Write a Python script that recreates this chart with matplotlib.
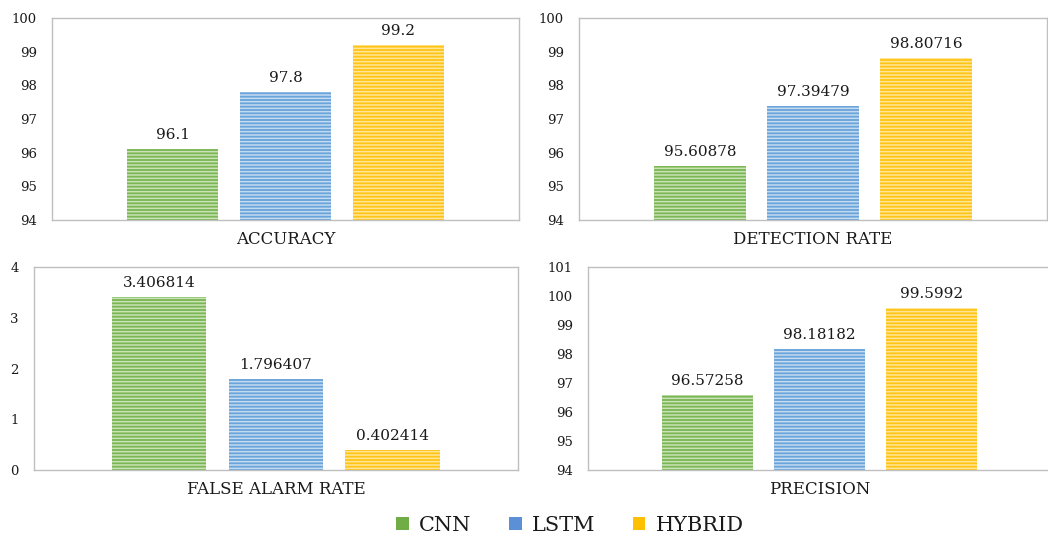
"""
Model comparison: CNN vs LSTM vs HYBRID on four detection metrics.
Saves a 2x2 grid of bar charts with a shared legend to out.png.
"""

import matplotlib
matplotlib.use("Agg")

import matplotlib.pyplot as plt
import numpy as np
from matplotlib.patches import Patch

# --- data -------------------------------------------------------------------
models = ["CNN", "LSTM", "HYBRID"]

accuracy = [96.1, 97.8, 99.2]
detection_rate = [95.60878, 97.39479, 98.80716]
false_alarm_rate = [3.406814, 1.796407, 0.402414]
precision = [96.57258, 98.18182, 99.5992]

accuracy_labels = ["96.1", "97.8", "99.2"]
detection_labels = ["95.60878", "97.39479", "98.80716"]
false_alarm_labels = ["3.406814", "1.796407", "0.402414"]
precision_labels = ["96.57258", "98.18182", "99.5992"]

# --- style ------------------------------------------------------------------
plt.rcParams["font.family"] = ["DejaVu Serif"]
plt.rcParams["hatch.linewidth"] = 1.1

BASE = ["#7AB654", "#68A3DA", "#FFC414"]
STRIPE = ["#C9E3B7", "#C3DAF1", "#FFE597"]
SOLID = ["#70AD47", "#5B8FD6", "#FFC000"]
SPINE = "#BFBFBF"
TEXT = "#1A1A1A"


def draw_panel(ax, values, labels, title, ylim, yticks):
    x = np.arange(len(values)) - 1
    width = 0.81
    # flat fill, then a second pass carrying only the striped hatch
    ax.bar(x, values, width, color=BASE, edgecolor="none", zorder=2)
    for xi, v, stripe in zip(x, values, STRIPE):
        ax.bar(xi, v, width, facecolor="none", edgecolor=stripe,
               hatch="-----", linewidth=0, zorder=3)

    for xi, v, lab in zip(x, values, labels):
        ax.annotate(lab, (xi, v), xytext=(0, 5), textcoords="offset points",
                    ha="center", va="bottom", fontsize=11, color=TEXT)

    ax.set_xlim(-2.07, 2.07)
    ax.set_ylim(*ylim)
    ax.set_yticks(yticks)
    ax.set_xticks([])
    ax.tick_params(axis="y", length=0, pad=11, labelsize=9.5, colors=TEXT)
    for spine in ax.spines.values():
        spine.set_color(SPINE)
        spine.set_linewidth(1.0)
    ax.set_xlabel(title, fontsize=12, color=TEXT, labelpad=8)


fig = plt.figure(figsize=(10.48, 5.39), dpi=100)

ax_acc = fig.add_axes([0.0496, 0.5918, 0.4456, 0.3748])
ax_det = fig.add_axes([0.5525, 0.5918, 0.4466, 0.3748])
ax_far = fig.add_axes([0.0324, 0.1280, 0.4618, 0.3766])
ax_pre = fig.add_axes([0.5611, 0.1280, 0.4418, 0.3766])

draw_panel(ax_acc, accuracy, accuracy_labels, "ACCURACY", (94, 100), range(94, 101))
draw_panel(ax_det, detection_rate, detection_labels, "DETECTION RATE", (94, 100), range(94, 101))
draw_panel(ax_far, false_alarm_rate, false_alarm_labels, "FALSE ALARM RATE", (0, 4), range(0, 5))
draw_panel(ax_pre, precision, precision_labels, "PRECISION", (94, 101), range(94, 102))

handles = [Patch(facecolor=c, edgecolor="none", label=m) for c, m in zip(SOLID, models)]
fig.legend(handles=handles, loc="center", bbox_to_anchor=(0.544, 0.025), ncol=3,
           frameon=False, fontsize=15, handlelength=0.6, handleheight=0.6,
           handletextpad=0.5, columnspacing=1.8, labelcolor=TEXT)

fig.savefig("out.png", dpi=100)
